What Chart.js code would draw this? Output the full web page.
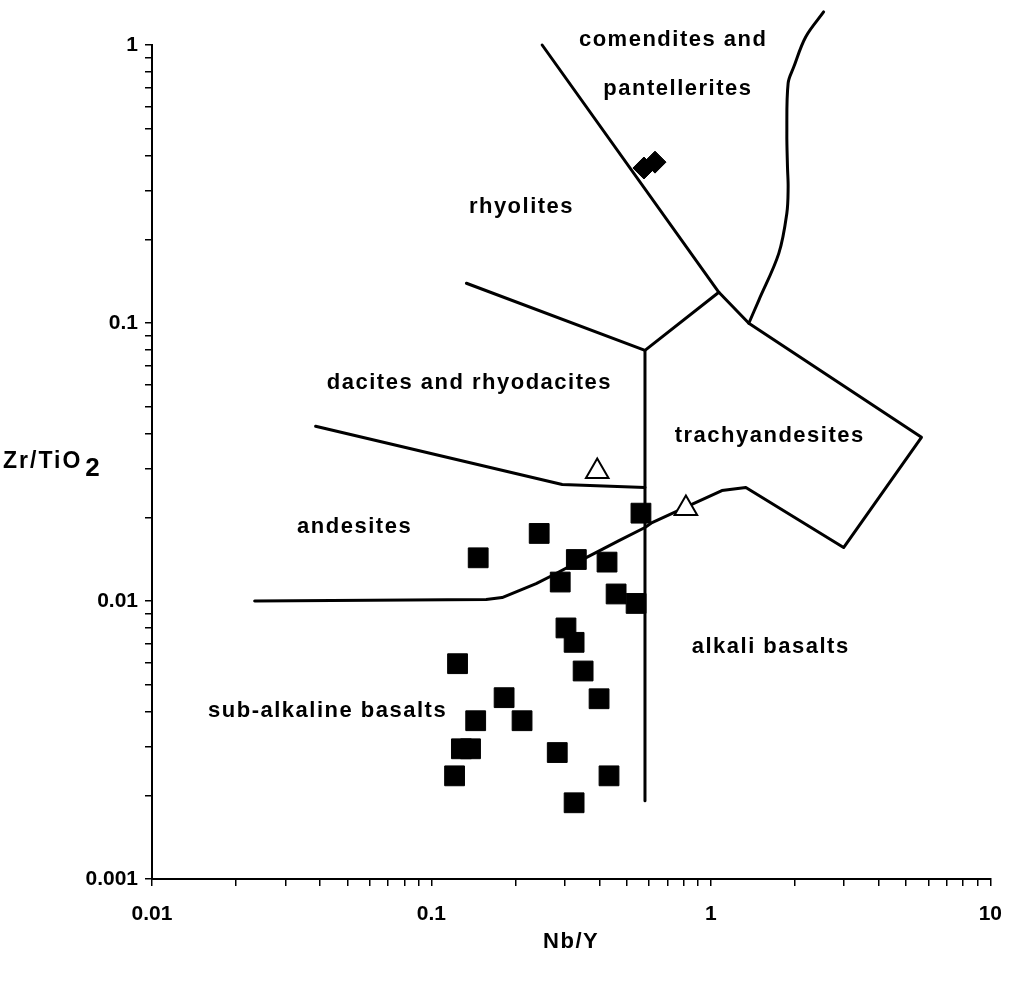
<!DOCTYPE html>
<html>
<head>
<meta charset="utf-8">
<script src="https://cdn.jsdelivr.net/npm/chart.js@4.4.1/dist/chart.umd.min.js"></script>
<style>
  html, body { margin: 0; padding: 0; background: #fff; }
  #wrap { width: 1018px; height: 986px; }
</style>
</head>
<body>
<div id="wrap"><canvas id="c" width="1018" height="986"></canvas></div>
<script>
// Axis tick labels (decades only; minor ticks carry no label)
const xTickLabels = ['0.01', '0.1', '1', '10'];
const yTickLabels = ['0.001', '0.01', '0.1', '1'];

// Samples: Nb/Y and Zr/TiO2
const basaltNbY = [0.243, 0.147, 0.330, 0.425, 0.562, 0.289, 0.458, 0.540, 0.303, 0.324, 0.349,
                   0.398, 0.124, 0.182, 0.211, 0.144, 0.128, 0.138, 0.121, 0.282, 0.432, 0.324];
const basaltZrTi = [0.0175, 0.0143, 0.0141, 0.0138, 0.0207, 0.0117, 0.0106, 0.0098, 0.0080, 0.0071, 0.0056,
                    0.00445, 0.00595, 0.00449, 0.00371, 0.00371, 0.00294, 0.00294, 0.00235, 0.00285, 0.00235, 0.00188];
const rhyoliteNbY = [0.576, 0.631];
const rhyoliteZrTi = [0.361, 0.379];
const openNbY = [0.392, 0.814];
const openZrTi = [0.0292, 0.0215];

// Field boundaries (Nb/Y, Zr/TiO2)
const mainBoundary = [[0.249, 1.0], [1.068, 0.129], [1.367, 0.0998], [5.67, 0.0388], [2.985, 0.01557],
  [1.334, 0.0256], [1.095, 0.02497], [0.870, 0.02243], [0.616, 0.01915], [0.581, 0.01838], [0.469, 0.0165],
  [0.358, 0.01433], [0.2705, 0.01235], [0.237, 0.01155], [0.206, 0.0109], [0.179, 0.01029], [0.157, 0.01012],
  [0.0233, 0.0100]];
const pantelleriteBoundary = [[1.367, 0.0998], [1.484, 0.1207], [1.75, 0.178], [1.87, 0.2483], [1.89, 0.308],
  [1.88, 0.3636], [1.87, 0.482], [1.89, 0.7297], [1.979, 0.833], [2.184, 1.069], [2.532, 1.315]];
const rhyodaciteBoundary = [[0.1334, 0.139], [0.581, 0.0797], [1.068, 0.129]];
const andesiteBoundary = [[0.0385, 0.0425], [0.2938, 0.02624], [0.581, 0.0256]];
const alkaliBoundary = [[0.581, 0.0797], [0.581, 0.00191]];

// Field names and their anchor points (Nb/Y, Zr/TiO2)
const fieldNames = ['comendites and', 'pantellerites', 'rhyolites', 'dacites and rhyodacites',
  'trachyandesites', 'andesites', 'alkali basalts', 'sub-alkaline basalts'];
const fieldNbY = [0.733, 0.762, 0.210, 0.1367, 1.624, 0.0531, 1.637, 0.0425];
const fieldZrTi = [1.042, 0.694, 0.261, 0.0607, 0.0394, 0.01853, 0.00685, 0.00403];

const toPoints = (xs, ys) => xs.map((x, i) => ({ x, y: ys[i] }));
const pairs = arr => arr.map(([x, y]) => ({ x, y }));

const FAMILY = '"Liberation Sans", Arial, Helvetica, sans-serif';
const LABEL_FONT = 'bold 22px ' + FAMILY;

function decadeTicks(min, max) {
  const ticks = [];
  for (let e = Math.round(Math.log10(min)); e < Math.round(Math.log10(max)); e++) {
    for (let m = 1; m <= 9; m++) ticks.push({ value: +(m * Math.pow(10, e)).toPrecision(3) });
  }
  ticks.push({ value: max });
  return ticks;
}
function decadeLabel(labels, min) {
  return function (value) {
    const lg = Math.log10(value);
    if (Math.abs(lg - Math.round(lg)) > 1e-6) return '';
    return labels[Math.round(lg) - Math.round(Math.log10(min))];
  };
}

const boundaryStyle = {
  type: 'line', showLine: true, borderColor: '#000', borderWidth: 3, pointRadius: 0,
  fill: false, clip: false, order: 3, borderJoinStyle: 'round', borderCapStyle: 'round'
};

const fieldLabels = {
  id: 'fieldLabels',
  afterDatasetsDraw(chart) {
    const { ctx, scales: { x, y }, chartArea } = chart;
    ctx.save();
    ctx.fillStyle = '#000';
    ctx.font = LABEL_FONT;
    ctx.letterSpacing = '1.5px';
    ctx.textAlign = 'center';
    ctx.textBaseline = 'middle';
    fieldNames.forEach((name, i) => {
      ctx.fillText(name, x.getPixelForValue(fieldNbY[i]), y.getPixelForValue(fieldZrTi[i]));
    });
    // x axis title
    ctx.fillText('Nb/Y', (chartArea.left + chartArea.right) / 2, chartArea.bottom + 63);
    // y axis title with subscript
    ctx.textAlign = 'left';
    ctx.textBaseline = 'alphabetic';
    ctx.font = 'bold 23px ' + FAMILY;
    ctx.letterSpacing = '2px';
    ctx.fillText('Zr/TiO', 3, 468);
    const w = ctx.measureText('Zr/TiO').width;
    ctx.font = 'bold 26px ' + FAMILY;
    ctx.fillText('2', 3 + w + 3, 476);
    ctx.restore();
  }
};

const tickFont = { family: FAMILY, weight: 'bold', size: 21 };

new Chart(document.getElementById('c'), {
  type: 'scatter',
  data: {
    datasets: [
      { ...boundaryStyle, data: pairs(mainBoundary), tension: 0 },
      { ...boundaryStyle, data: pairs(pantelleriteBoundary), tension: 0.35 },
      { ...boundaryStyle, data: pairs(rhyodaciteBoundary), tension: 0 },
      { ...boundaryStyle, data: pairs(andesiteBoundary), tension: 0 },
      { ...boundaryStyle, data: pairs(alkaliBoundary), tension: 0 },
      {
        data: toPoints(basaltNbY, basaltZrTi), pointStyle: 'rect', pointRadius: 14,
        backgroundColor: '#000', borderColor: '#000', borderWidth: 1, order: 1, clip: false
      },
      {
        data: toPoints(rhyoliteNbY, rhyoliteZrTi), pointStyle: 'rectRot', pointRadius: 11,
        backgroundColor: '#000', borderColor: '#000', borderWidth: 1, order: 1, clip: false
      },
      {
        data: toPoints(openNbY, openZrTi), pointStyle: 'triangle', pointRadius: 13,
        backgroundColor: '#fff', borderColor: '#000', borderWidth: 2, order: 1, clip: false
      }
    ]
  },
  options: {
    responsive: false,
    devicePixelRatio: 1,
    animation: false,
    events: [],
    layout: { padding: { top: 45, right: 21, left: 0, bottom: 0 } },
    elements: { line: { capBezierPoints: false } },
    plugins: { legend: { display: false }, tooltip: { enabled: false }, title: { display: false } },
    scales: {
      x: {
        type: 'logarithmic', min: 0.01, max: 10, position: 'bottom',
        border: { display: true, color: '#000', width: 2 },
        grid: { display: true, drawOnChartArea: false, drawTicks: true, tickLength: 7, color: '#000', lineWidth: 1.5 },
        ticks: { autoSkip: false, maxRotation: 0, minRotation: 0, padding: 16, color: '#000', font: tickFont,
                 callback: decadeLabel(xTickLabels, 0.01) },
        afterBuildTicks(s) { s.ticks = decadeTicks(0.01, 10); },
        afterFit(s) { s.height = 107; }
      },
      y: {
        type: 'logarithmic', min: 0.001, max: 1, position: 'left',
        border: { display: true, color: '#000', width: 2 },
        grid: { display: true, drawOnChartArea: false, drawTicks: true, tickLength: 7, color: '#000', lineWidth: 1.5 },
        ticks: { autoSkip: false, padding: 7, color: '#000', font: tickFont,
                 callback: decadeLabel(yTickLabels, 0.001) },
        afterBuildTicks(s) { s.ticks = decadeTicks(0.001, 1); },
        afterFit(s) { s.width = 152; }
      }
    }
  },
  plugins: [fieldLabels]
});
</script>
</body>
</html>
